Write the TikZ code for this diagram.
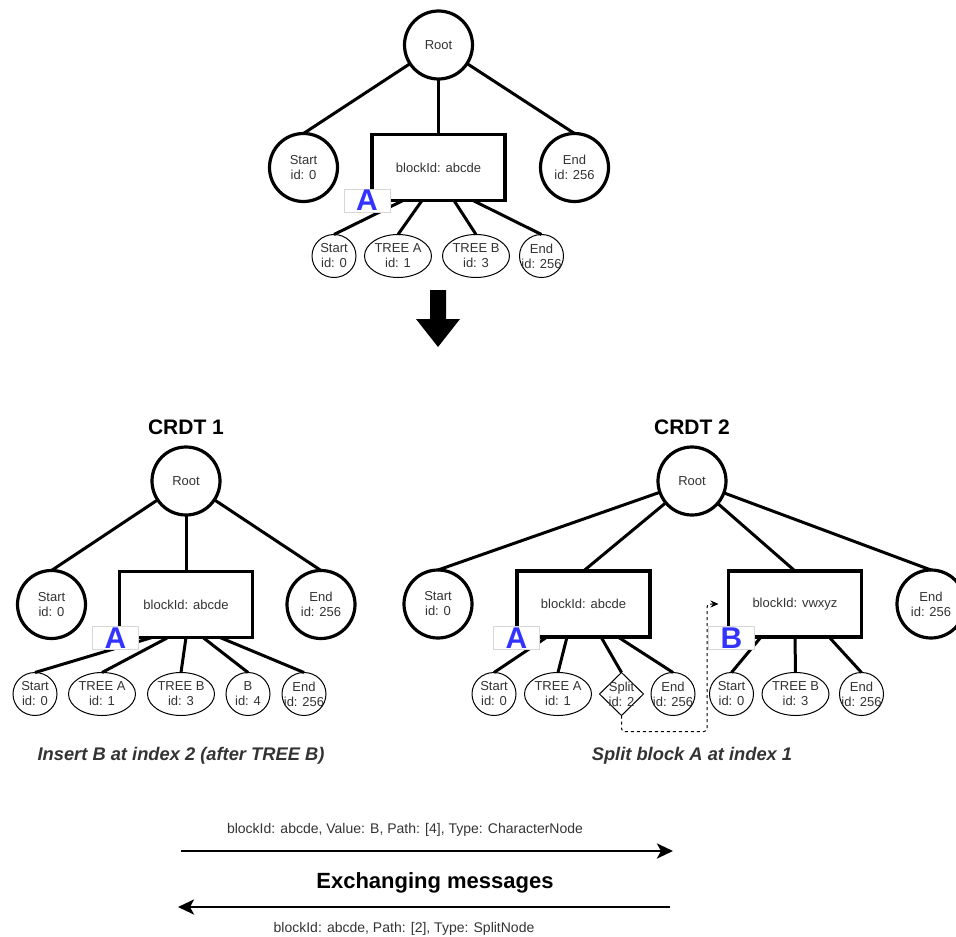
\documentclass[tikz,border=0pt]{standalone}
\usepackage{fontspec}
\setmainfont{Liberation Sans}
\usetikzlibrary{shapes.geometric,arrows.meta}
\definecolor{inkgray}{RGB}{51,51,51}
\definecolor{tagblue}{RGB}{51,51,255}
\definecolor{tagframe}{RGB}{215,215,215}

\begin{document}
\begin{tikzpicture}[x=1pt,y=-1pt,
  every node/.style={inner sep=0pt, outer sep=0pt},
  nodetext/.style={font=\fontsize{13}{15}\selectfont, text=inkgray, align=center},
  bignode/.style={circle, draw, line width=3.2pt, fill=white, minimum size=68pt, nodetext},
  block/.style={rectangle, draw, line width=3.2pt, fill=white, minimum width=133pt, minimum height=66pt, nodetext},
  leaf/.style={ellipse, draw, line width=1pt, fill=white, minimum height=43pt, minimum width=44pt, label={[nodetext]center:#1}},
  wideleaf/.style={leaf=#1, minimum width=67pt},
  splitleaf/.style={diamond, draw, line width=1pt, fill=white, minimum width=44pt, minimum height=43pt, label={[nodetext]center:#1}},
  tree/.style={line width=3pt},
  tag/.style={rectangle, draw=tagframe, line width=0.8pt, fill=white, minimum width=46pt, minimum height=23pt, text=tagblue, font=\fontsize{30}{30}\selectfont\bfseries},
  title/.style={font=\fontsize{21}{25}\selectfont\bfseries, anchor=base},
  caption/.style={font=\fontsize{18.3}{22}\selectfont\bfseries\itshape, text=inkgray, anchor=base},
  msg/.style={font=\fontsize{14}{17}\selectfont, text=inkgray, anchor=base},
  msgarrow/.style={line width=2.8pt, -{Stealth[length=16pt,width=15pt,inset=4pt]}},
  link/.style={line width=1pt, dashed, rounded corners=3pt, -{Stealth[length=8pt,width=7pt]}}
]
\useasboundingbox (0,0) rectangle (956,937);

% ---------- initial tree ----------
\node[bignode] (r0) at (438.5,45) {Root};
\node[bignode] (s0) at (303.5,167.5) {Start\\id: 0};
\node[block] (b0) at (438.5,167.5) {blockId: abcde};
\node[bignode] (e0) at (574.5,167.5) {End\\id: 256};
\node[leaf={Start\\id: 0}] (b0c1) at (334,256) {};
\node[wideleaf={TREE A\\id: 1}] (b0c2) at (398,256) {};
\node[wideleaf={TREE B\\id: 3}] (b0c3) at (476,256) {};
\node[leaf={End\\id: 256}] (b0c4) at (541.5,256) {};

\draw[tree] (r0) -- (s0.north);
\draw[tree] (r0) -- (b0.north);
\draw[tree] (r0) -- (e0.north);
\draw[tree] ([xshift=-35.5pt]b0.south) -- (b0c1.north);
\draw[tree] ([xshift=-16.5pt]b0.south) -- (b0c2.north);
\draw[tree] ([xshift=15.5pt]b0.south) -- (b0c3.north);
\draw[tree] ([xshift=34.5pt]b0.south) -- (b0c4.north);
\node[tag] (tagA0) at (367,200.5) {A};

% transition arrow
\fill (430,290) -- (446,290) -- (446,319) -- (460,319) -- (438,347)
  -- (416,319) -- (430,319) -- cycle;

% ---------- CRDT 1 ----------
\node[title] (t1) at (186,434) {CRDT 1};
\node[bignode] (r1) at (186,481) {Root};
\node[bignode] (s1) at (51.5,604.5) {Start\\id: 0};
\node[block] (b1) at (186,604.5) {blockId: abcde};
\node[bignode] (e1) at (321,604.5) {End\\id: 256};
\node[leaf={Start\\id: 0}] (b1c1) at (35,694) {};
\node[wideleaf={TREE A\\id: 1}] (b1c2) at (102,694) {};
\node[wideleaf={TREE B\\id: 3}] (b1c3) at (181,694) {};
\node[leaf={B\\id: 4}] (b1c4) at (248,694) {};
\node[leaf={End\\id: 256}] (b1c5) at (304,694) {};

\draw[tree] (r1) -- (s1.north);
\draw[tree] (r1) -- (b1.north);
\draw[tree] (r1) -- (e1.north);
\draw[tree] ([xshift=-34pt]b1.south) -- (b1c1.north);
\draw[tree] ([xshift=-18pt]b1.south) -- (b1c2.north);
\draw[tree] (b1.south) -- (b1c3.north);
\draw[tree] ([xshift=17pt]b1.south) -- (b1c4.north);
\draw[tree] ([xshift=34pt]b1.south) -- (b1c5.north);
\node[tag] (tagA1) at (115.5,638) {A};
\node[caption] (cap1) at (181,760) {Insert B at index 2 (after TREE B)};

% ---------- CRDT 2 ----------
\node[title] (t2) at (692,434) {CRDT 2};
\node[bignode] (r2) at (692,481) {Root};
\node[bignode] (s2) at (438,604) {Start\\id: 0};
\node[block] (bA) at (583.5,604) {blockId: abcde};
\node[block] (bB) at (795,604) {blockId: vwxyz};
\node[bignode] (e2) at (931,604) {End\\id: 256};
\node[leaf={Start\\id: 0}] (bAc1) at (494,694) {};
\node[wideleaf={TREE A\\id: 1}] (bAc2) at (558,694) {};
\node[splitleaf={Split\\id: 2}] (split) at (621.5,694) {};
\node[leaf={End\\id: 256}] (bAc4) at (673,694) {};
\node[leaf={Start\\id: 0}] (bBc1) at (731.5,694) {};
\node[wideleaf={TREE B\\id: 3}] (bBc2) at (795.5,694) {};
\node[leaf={End\\id: 256}] (bBc3) at (861.5,694) {};

\draw[tree] (r2) -- (s2.north);
\draw[tree] (r2) -- (bA.north);
\draw[tree] (r2) -- (bB.north);
\draw[tree] (r2) -- (e2.north);
\draw[tree] ([xshift=-36.5pt]bA.south) -- (bAc1.north);
\draw[tree] ([xshift=-16.5pt]bA.south) -- (bAc2.north);
\draw[tree] ([xshift=17.5pt]bA.south) -- (split.north);
\draw[tree] ([xshift=34.5pt]bA.south) -- (bAc4.north);
\draw[tree] ([xshift=-34pt]bB.south) -- (bBc1.north);
\draw[tree] (bB.south) -- (bBc2.north);
\draw[tree] ([xshift=34pt]bB.south) -- (bBc3.north);

\draw[link] (split.south) -- ++(0,16) -| ([xshift=-21.5pt]bB.west)
  -- ([xshift=-10pt]bB.west);

\node[tag] (tagA2) at (516.5,638) {A};
\node[tag] (tagB2) at (731.5,638) {B};
\node[caption] (cap2) at (692,760) {Split block A at index 1};

% ---------- messages ----------
\coordinate (m1a) at (181,851);
\coordinate (m1b) at (673,851);
\coordinate (m2a) at (670,907);
\coordinate (m2b) at (178,907);
\draw[msgarrow] (m1a) -- (m1b);
\draw[msgarrow] (m2a) -- (m2b);
\node[msg] (msg1) at (405,833) {blockId: abcde, Value: B, Path: [4], Type: CharacterNode};
\node[title, font=\fontsize{22}{26}\selectfont\bfseries] (xchg) at (435,888) {Exchanging messages};
\node[msg] (msg2) at (404,932) {blockId: abcde, Path: [2], Type: SplitNode};
\end{tikzpicture}
\end{document}
